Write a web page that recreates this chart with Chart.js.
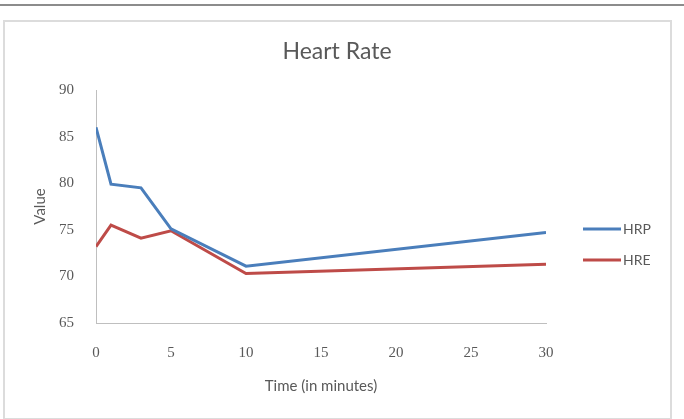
<!DOCTYPE html>
<html>
<head>
<meta charset="utf-8">
<script src="https://cdn.jsdelivr.net/npm/chart.js@4"></script>
<style>
    html, body { margin: 0; padding: 0; background: #fff; width: 684px; height: 419px; overflow: hidden; }
    #topline { position: absolute; left: 0; top: 4px; width: 684px; height: 2px; background: #8c8c8c; }
    #frame { position: absolute; left: 3px; top: 20px; width: 665px; height: 396px; border: 2px solid #dcdcdc; }
    #wrap { position: absolute; left: 0; top: 0; width: 684px; height: 419px; }
</style>
</head>
<body>
<div id="topline"></div>
<div id="frame"></div>
<div id="wrap"><canvas id="hrChart"></canvas></div>
<script>
// Time points (minutes) and heart rate series
const times = [0, 1, 3, 5, 10, 30];
const hrp = [86.0, 79.9, 79.5, 75.1, 71.1, 74.7];
const hre = [73.2, 75.5, 74.1, 74.9, 70.3, 71.3];
const xTicks = [0, 5, 10, 15, 20, 25, 30];
const yTicks = [65, 70, 75, 80, 85, 90];

const textGray = '#595959';
const tickFont = { family: '"Liberation Serif", serif', size: 15 };

// title and legend drawn on the canvas, Excel-like placement
const excelDecor = {
    id: 'excelDecor',
    afterDraw(chart) {
        const ctx = chart.ctx;
        ctx.save();
        ctx.fillStyle = textGray;
        ctx.font = '23px Lato, sans-serif';
        ctx.textAlign = 'center';
        ctx.textBaseline = 'middle';
        ctx.fillText('Heart Rate', 337, 52);

        ctx.font = '14px Lato, sans-serif';
        ctx.textAlign = 'left';
        chart.data.datasets.forEach((ds, i) => {
            const y = 229 + i * 31;
            ctx.strokeStyle = ds.borderColor;
            ctx.lineWidth = 3;
            ctx.beginPath();
            ctx.moveTo(583, y);
            ctx.lineTo(621, y);
            ctx.stroke();
            ctx.fillText(ds.label, 623, y);
        });
        ctx.restore();
    }
};

new Chart(document.getElementById('hrChart'), {
    type: 'line',
    data: {
        datasets: [
            {
                label: 'HRP',
                data: times.map((t, i) => ({ x: t, y: hrp[i] })),
                borderColor: '#4a7ebb',
                borderWidth: 3
            },
            {
                label: 'HRE',
                data: times.map((t, i) => ({ x: t, y: hre[i] })),
                borderColor: '#be4b48',
                borderWidth: 3
            }
        ]
    },
    options: {
        responsive: true,
        maintainAspectRatio: false,
        animation: false,
        events: [],
        elements: { point: { radius: 0 }, line: { tension: 0 } },
        layout: { padding: { top: 90, left: 0, right: 138, bottom: 0 } },
        plugins: {
            legend: { display: false },
            title: { display: false },
            tooltip: { enabled: false }
        },
        scales: {
            x: {
                type: 'linear',
                min: 0,
                max: 30,
                afterFit: s => { s.height = 96; },
                afterBuildTicks: s => { s.ticks = xTicks.map(v => ({ value: v })); },
                grid: { display: false },
                border: { display: true, color: '#bfbfbf', width: 1 },
                ticks: { color: textGray, font: tickFont, padding: 13, maxRotation: 0 },
                title: {
                    display: true,
                    text: 'Time (in minutes)',
                    color: textGray,
                    font: { family: 'Lato, sans-serif', size: 15 },
                    padding: { top: 0, bottom: 24 }
                }
            },
            y: {
                min: 65,
                max: 90,
                afterFit: s => { s.width = 96; },
                afterBuildTicks: s => { s.ticks = yTicks.map(v => ({ value: v })); },
                grid: { display: false },
                border: { display: true, color: '#bfbfbf', width: 1 },
                ticks: { color: textGray, font: tickFont, padding: 14 },
                title: {
                    display: true,
                    text: 'Value',
                    color: textGray,
                    font: { family: 'Lato, sans-serif', size: 15 },
                    padding: { top: 31, bottom: 0 }
                }
            }
        }
    },
    plugins: [excelDecor]
});
</script>
</body>
</html>
